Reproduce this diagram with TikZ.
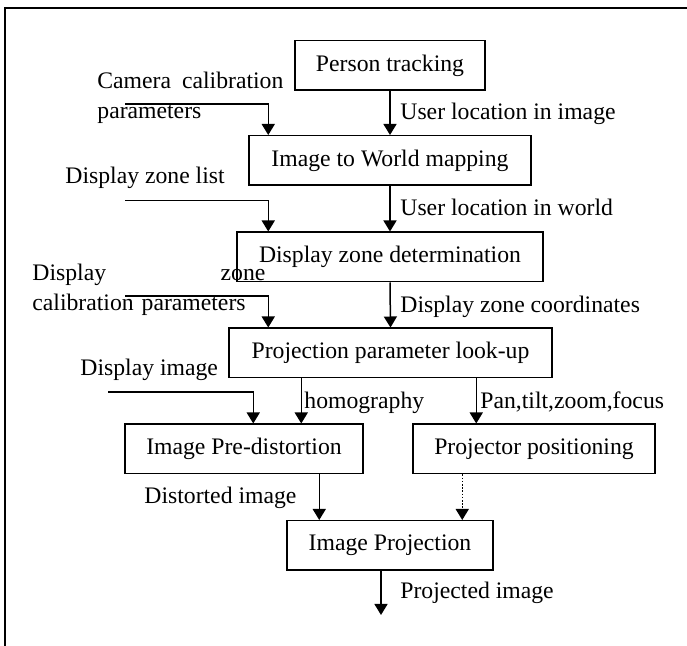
\documentclass[tikz,border=0pt]{standalone}
\usepackage{fontspec}
\setmainfont{Liberation Serif}
\usetikzlibrary{arrows.meta,positioning,calc}

\begin{document}
\begin{tikzpicture}[x=0.5pt, y=-0.5pt, font=\fontsize{11.85}{15}\selectfont,
  stage/.style={draw, line width=0.75pt, minimum height=24.75pt, inner sep=1pt},
  flow/.style={line width=0.75pt, -{Triangle[width=6.5pt,length=5.5pt]}},
  tag/.style={anchor=base west, inner sep=0pt},
]
\useasboundingbox (0,0) rectangle (687,646);
\draw[line width=0.8pt] (687,8) -- (5,8) -- (5,646);
% processing stages
\node[stage, minimum width=95pt] (track) at (390,65.5) {Person tracking};
\node[stage, minimum width=141pt] (map) at (390,160.5) {Image to World mapping};
\node[stage, minimum width=153pt] (zone) at (390,257) {Display zone determination};
\node[stage, minimum width=161.5pt] (lookup) at (390.5,353) {Projection parameter look-up};
\node[stage, minimum width=119pt] (predist) at (244,449) {Image Pre-distortion};
\node[stage, minimum width=121pt] (posit) at (534,449) {Projector positioning};
\node[stage, minimum width=103pt] (proj) at (390,545.5) {Image Projection};
% main chain
\draw[flow] (track.south) -- (map.north);
\draw[flow] (map.south) -- (zone.north);
\draw[flow] (zone.south) -- (lookup.north);
\draw[flow] ($(lookup.south west)+(73,0)$) coordinate (hom) -- (hom |- predist.north);
\draw[flow] ($(lookup.south west)+(248,0)$) coordinate (ptz) -- (ptz |- posit.north);
\draw[flow] ($(predist.south west)+(195,0)$) coordinate (dist) -- (dist |- proj.north);
\draw[flow, dash pattern={on 0.8pt off 0.8pt}] ($(posit.south west)+(50,0)$) coordinate (move) -- (move |- proj.north);
\coordinate (out) at (381,615);
\draw[flow] (out |- proj.south) -- (out);
% side inputs
\coordinate (camin) at (125,104);
\coordinate (listin) at (125,200.5);
\coordinate (calin) at (125,296);
\coordinate (imgin) at (108,392);
\draw[flow] (camin) -| ($(map.north west)+(20,0)$);
\draw[flow] (listin) -| ($(zone.north west)+(32,0)$);
\draw[flow] (calin) -| ($(lookup.north west)+(40,0)$);
\draw[flow] (imgin) -| ($(predist.north west)+(129,0)$);
% labels
\node[tag] (l1) at (400,120) {User location in image};
\node[tag] (l2) at (400,216) {User location in world};
\node[tag] (l3) at (400,313) {Display zone coordinates};
\node[tag, text width=93pt, align=left] (l4) at (97,89) {\hbox to 93pt{Camera\hfill calibration}\\parameters};
\node[tag] (l5) at (65,184) {Display zone list};
\node[tag, text width=116.5pt, align=left] (l6) at (32,281) {\hbox to 116.5pt{Display\hfill zone}\\calibration parameters};
\node[tag] (l7) at (80,376) {Display image};
\node[tag] (l8) at (304,409) {homography};
\node[tag] (l9) at (480,409) {Pan,tilt,zoom,focus};
\node[tag] (l10) at (144,504) {Distorted image};
\node[tag] (l11) at (400,599) {Projected image};
\end{tikzpicture}
\end{document}
